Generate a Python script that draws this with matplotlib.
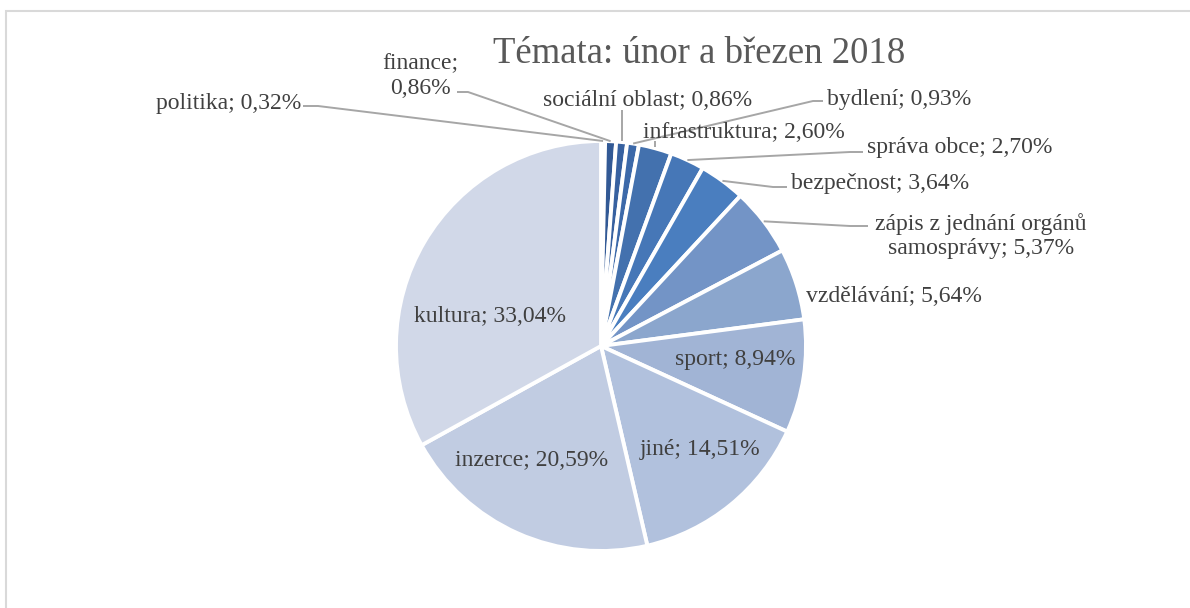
import matplotlib.pyplot as plt
import numpy as np
from matplotlib.patches import Rectangle

# data
categories = ["politika", "finance", "sociální oblast", "bydlení", "infrastruktura",
              "správa obce", "bezpečnost", "zápis z jednání orgánů samosprávy",
              "vzdělávání", "sport", "jiné", "inzerce", "kultura"]
values = [0.32, 0.86, 0.86, 0.93, 2.60, 2.70, 3.64, 5.37, 5.64, 8.94, 14.51, 20.59, 33.04]
colors = ["#2e5186", "#325995", "#3761a0", "#3c69a9", "#4371ae", "#4677b7", "#4a7ebf",
          "#7394c6", "#8ba6cd", "#a1b4d5", "#b1c1dd", "#c1cce2", "#d1d8e8"]
title = "Témata: únor a březen 2018"

W, H = 1190, 608
def P(x, y):
    # pixel (y down) -> data (y up)
    return x, H - y

# label layout in pixels: (x, y, ha, leader points from text to wedge, or None)
layout = {
    "politika": (301, 103, "right", [(303, 106), (318, 106)]),
    "finance": (420, 76, "center", [(457, 92), (468, 92)]),
    "sociální oblast": (648, 100, "center", "up110"),
    "bydlení": (827, 99, "left", [(823, 101), (813, 101)]),
    "infrastruktura": (744, 133, "center", "up141"),
    "správa obce": (867, 147, "left", [(863, 152), (850, 152)]),
    "bezpečnost": (791, 183, "left", [(787, 187), (773, 187)]),
    "zápis z jednání orgánů samosprávy": (981, 236, "center", [(868, 226), (850, 226)]),
    "vzdělávání": (806, 297, "left", None),
    "sport": (735, 360, "center", None),
    "jiné": (700, 449, "center", None),
    "inzerce": (532, 461, "center", None),
    "kultura": (490, 317, "center", None),
}
breaks = {"finance": "finance;\n", "zápis z jednání orgánů samosprávy": "zápis z jednání orgánů\nsamosprávy; "}

plt.rcParams["font.family"] = ["Liberation Serif", "DejaVu Serif"]
fig = plt.figure(figsize=(W / 100, H / 100), dpi=100)
ax = fig.add_axes([0, 0, 1, 1])

cx, cy = P(601, 346)
R = 205
wedges, _ = ax.pie(values, colors=colors, startangle=90, counterclock=False,
                   center=(cx, cy), radius=R, normalize=True,
                   wedgeprops=dict(edgecolor="white", linewidth=2.8))

ax.set_xlim(0, W)
ax.set_ylim(0, H)
ax.set_aspect("equal")
ax.axis("off")

# chart border
ax.add_patch(Rectangle(P(5.5, 700), 1300, 700 - 10.5, fill=False,
                       edgecolor="#d9d9d9", linewidth=1.5))

ax.text(*P(699, 54), title, ha="center", va="center", fontsize=26.5, color="#595959")

txt_col = "#404040"
line_col = "#a6a6a6"
for w, cat, v in zip(wedges, categories, values):
    vs = f"{v:.2f}".replace(".", ",") + "%"
    lbl = breaks.get(cat, cat + "; ") + vs
    x, y, ha, lead = layout[cat]
    ax.text(*P(x, y), lbl, ha=ha, va="center", fontsize=17, color=txt_col,
            multialignment="center", linespacing=1.22)
    if lead is None:
        continue
    ang = np.deg2rad((w.theta1 + w.theta2) / 2)
    wx, wy = cx + R * np.cos(ang), cy + R * np.sin(ang)
    if isinstance(lead, str):
        ytop = float(lead[2:])
        xs, ys = [wx, wx], [wy + 1, H - ytop]
    else:
        pts = [P(px, py) for px, py in lead] + [(wx, wy)]
        xs, ys = zip(*pts)
    ax.plot(xs, ys, color=line_col, linewidth=1.4, solid_capstyle="butt")

fig.savefig("out.png", dpi=100, facecolor="white")
